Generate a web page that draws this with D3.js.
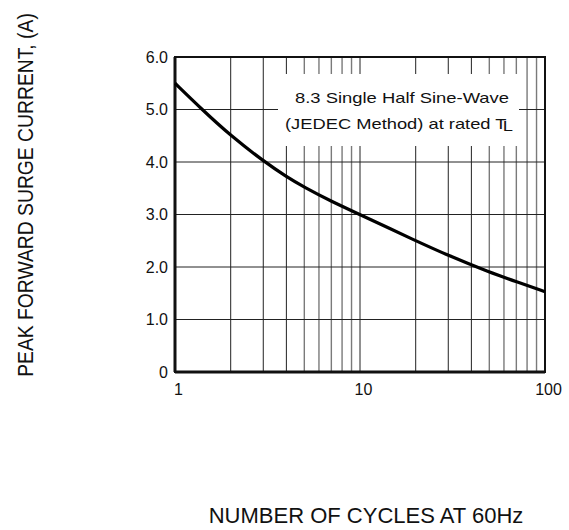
<!DOCTYPE html>
<html>
<head>
<meta charset="utf-8">
<script src="https://cdn.jsdelivr.net/npm/d3@7"></script>
<style>
  body { margin: 0; background: #fff; }
  svg text { font-family: "Liberation Sans", Arial, sans-serif; fill: #111; }
</style>
</head>
<body>
<div id="chart"></div>
<script>
// surge current vs. number of cycles
var cycles = [1, 1.4, 2, 3, 4, 5, 7, 10, 20, 30, 50, 70, 100];
var current = [5.5, 5.0, 4.5, 4.02, 3.72, 3.52, 3.25, 3.0, 2.5, 2.22, 1.9, 1.72, 1.53];
var yTicks = [0, 1, 2, 3, 4, 5, 6];
var xTicks = [1, 10, 100];
var noteLines = ["8.3 Single Half Sine-Wave", "(JEDEC Method) at rated T"];

var margin = {top: 57, right: 24, bottom: 158, left: 175},
    width = 545 - margin.left,
    height = 372 - margin.top;

var svg = d3.select("#chart")
    .append("svg")
    .attr("width", 569)
    .attr("height", 530)
    .append("g")
    .attr("transform", "translate(" + margin.left + "," + margin.top + ")");

var x = d3.scaleLog()
    .domain([1, 100])
    .range([0, width]);
var y = d3.scaleLinear()
    .domain([0, 6])
    .range([height, 0]);

// vertical grid (log minor lines)
var minor = [];
[1, 10].forEach(function(d) {
    for (var k = 2; k <= 10; k++) minor.push(d * k);
});
minor = minor.filter(function(v) { return v < 100; });
function mant(d) {
    return d / Math.pow(10, Math.floor(Math.log10(d) + 1e-9));
}
svg.append("g")
    .selectAll("line")
    .data(minor)
    .enter().append("line")
    .attr("x1", function(d) { return x(d); })
    .attr("x2", function(d) { return x(d); })
    .attr("y1", 0)
    .attr("y2", height)
    .attr("stroke", function(d) { return mant(d) <= 4 ? "#222" : "#7a7a7a"; })
    .attr("stroke-width", function(d) { return mant(d) <= 4 ? 1 : 1.4; });

// horizontal grid
svg.append("g")
    .selectAll("line")
    .data(yTicks.slice(1, -1))
    .enter().append("line")
    .attr("x1", 0)
    .attr("x2", width)
    .attr("y1", function(d) { return y(d); })
    .attr("y2", function(d) { return y(d); })
    .attr("stroke", "#222")
    .attr("stroke-width", 1);

// white box behind the note
svg.append("rect")
    .attr("x", 278 - margin.left)
    .attr("y", 74 - margin.top)
    .attr("width", 519 - 278)
    .attr("height", 146 - 74)
    .attr("fill", "#fff");

var note = svg.append("g")
    .attr("text-anchor", "middle")
    .style("font-size", "15px");
note.append("text")
    .attr("x", 402 - margin.left)
    .attr("y", 103 - margin.top)
    .attr("textLength", 214)
    .attr("lengthAdjust", "spacingAndGlyphs")
    .text(noteLines[0]);
var l2 = note.append("text")
    .attr("x", 399 - margin.left)
    .attr("y", 129 - margin.top)
    .attr("textLength", 228)
    .attr("lengthAdjust", "spacingAndGlyphs");
l2.append("tspan").text(noteLines[1]);
l2.append("tspan").attr("dx", -3).attr("dy", 2).text("L");

// frame
svg.append("rect")
    .attr("width", width)
    .attr("height", height)
    .attr("fill", "none")
    .attr("stroke", "#111")
    .attr("stroke-width", 2);
svg.append("line")
    .attr("x1", 0).attr("x2", 0)
    .attr("y1", 0).attr("y2", height)
    .attr("stroke", "#111")
    .attr("stroke-width", 3);
svg.append("line")
    .attr("x1", 0).attr("x2", width)
    .attr("y1", height).attr("y2", height)
    .attr("stroke", "#111")
    .attr("stroke-width", 3);

// axes (labels only)
var xAxis = svg.append("g")
    .attr("transform", "translate(0," + height + ")")
    .call(d3.axisBottom(x).tickValues(xTicks).tickFormat(d3.format("d")).tickSize(0).tickPadding(12));
xAxis.select(".domain").remove();
xAxis.selectAll("text")
    .style("font-size", "16px")
    .attr("fill", "#111")
    .attr("dx", 3);

var yAxis = svg.append("g")
    .call(d3.axisLeft(y).tickValues(yTicks)
        .tickFormat(function(d) { return d === 0 ? "0" : d3.format(".1f")(d); })
        .tickSize(0).tickPadding(7));
yAxis.select(".domain").remove();
yAxis.selectAll("text")
    .style("font-size", "16px")
    .attr("fill", "#111");

// curve
svg.append("path")
    .datum(d3.zip(cycles, current))
    .attr("fill", "none")
    .attr("stroke", "#000")
    .attr("stroke-width", 3.2)
    .attr("d", d3.line()
        .curve(d3.curveBasis)
        .x(function(d) { return x(d[0]); })
        .y(function(d) { return y(d[1]); }));

// axis titles, squeezed horizontally to the width of the original lettering
function squeeze(sel, target) {
    var len = sel.node().getComputedTextLength();
    return Math.min(1, target / len);
}
var xt = svg.append("text")
    .attr("text-anchor", "middle")
    .style("font-size", "22px")
    .text("NUMBER OF CYCLES AT 60Hz");
xt.attr("transform", "translate(" + (366 - margin.left) + "," + (523 - margin.top) + ") scale(" + squeeze(xt, 335) + ",1)");

var yt = svg.append("text")
    .attr("text-anchor", "middle")
    .style("font-size", "22px")
    .text("PEAK FORWARD SURGE CURRENT, (A)");
yt.attr("transform", "translate(" + (33 - margin.left) + "," + (195 - margin.top) + ") rotate(-90) scale(" + squeeze(yt, 364) + ",1)");
</script>
</body>
</html>
